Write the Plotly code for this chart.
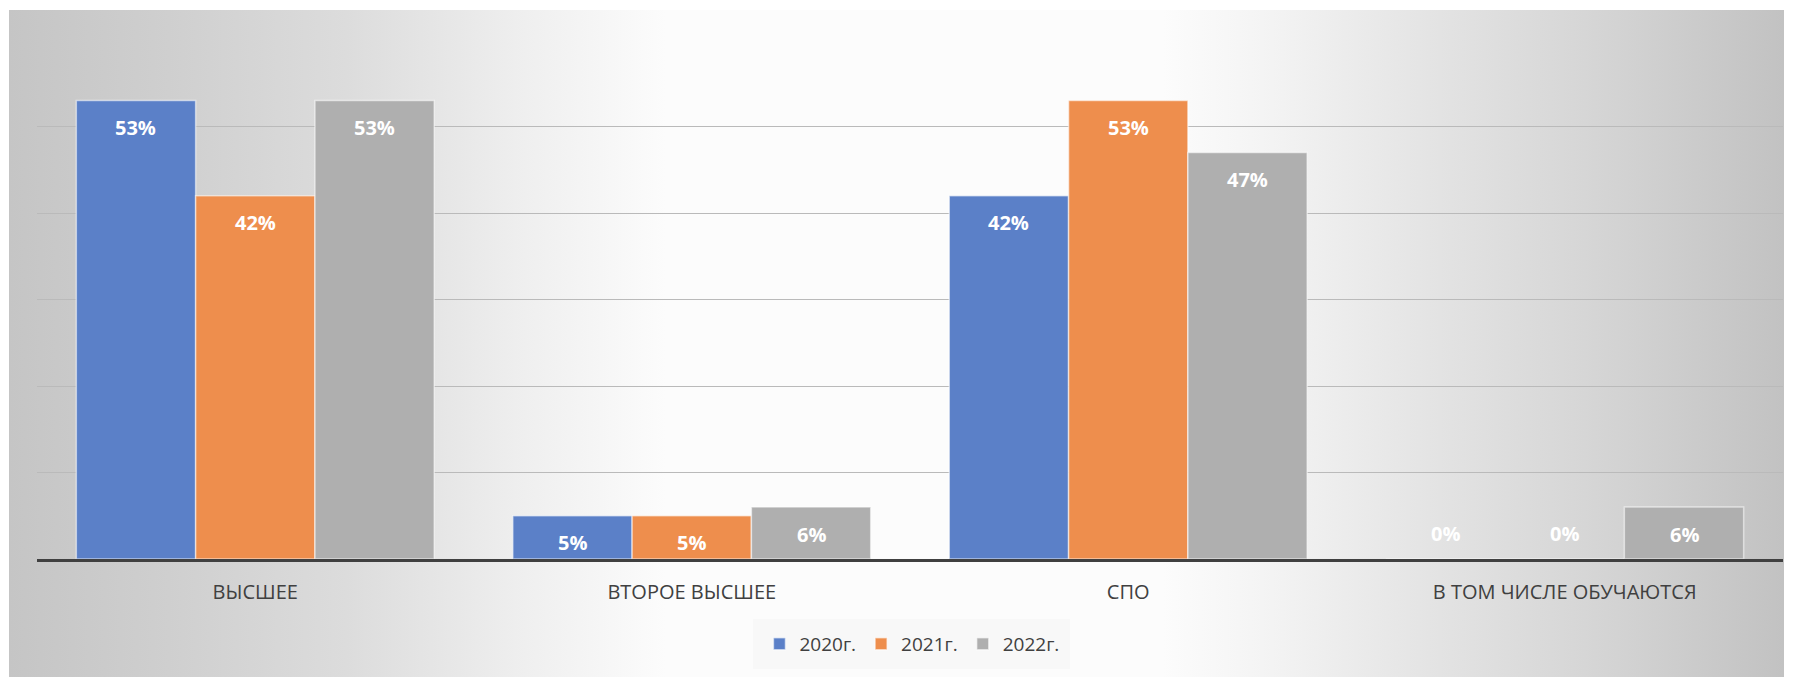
import plotly.graph_objects as go

categories = ["ВЫСШЕЕ", "ВТОРОЕ ВЫСШЕЕ", "СПО", "В ТОМ ЧИСЛЕ ОБУЧАЮТСЯ"]
series_names = ["2020г.", "2021г.", "2022г."]
values_2020 = [0.53, 0.05, 0.42, 0.0]
values_2021 = [0.42, 0.05, 0.53, 0.0]
values_2022 = [0.53, 0.06, 0.47, 0.06]
series_values = [values_2020, values_2021, values_2022]
colors = ["#5b80c8", "#ee8e4d", "#afafaf"]

FONT = "Open Sans"
BARGAP = 0.18

fig = go.Figure()

# background panel gradient (on a full-size hidden subplot drawn first)
fig.add_trace(go.Scatter(
    x=[0, 1, 1, 0], y=[0, 0, 1, 1], fill="toself", mode="none",
    fillgradient=dict(type="horizontal", colorscale=[
        [0.0, "#c5c5c5"], [0.09, "#cfcfcf"], [0.19, "#dcdcdc"], [0.285, "#eeeeee"],
        [0.37, "#fcfcfc"], [0.65, "#fcfcfc"], [0.70, "#f5f5f5"], [0.80, "#e4e4e4"],
        [0.90, "#d4d4d4"], [1.0, "#c2c2c2"]]),
    showlegend=False, hoverinfo="skip", xaxis="x", yaxis="y"))

for name, vals, col in zip(series_names, series_values, colors):
    fig.add_trace(go.Bar(
        x=categories, y=vals, name=name, xaxis="x2", yaxis="y2",
        marker=dict(color=col, line=dict(color="rgba(255,255,255,0.55)", width=1.5)),
        hoverinfo="skip"))

# data labels
w = (1 - BARGAP) / len(series_values)
annotations = []
for k, vals in enumerate(series_values):
    for i, v in enumerate(vals):
        annotations.append(dict(
            x=i + (k - (len(series_values) - 1) / 2) * w, y=v, xref="x2", yref="y2",
            text=f"{round(v * 100)}%", showarrow=False,
            yshift=-27 if v > 0 else 26, yanchor="middle",
            font=dict(family=FONT, size=20, color="white", weight="bold")))

fig.update_layout(
    width=1785, height=669,
    margin=dict(l=1, r=9, t=2, b=0, pad=0),
    paper_bgcolor="white", plot_bgcolor="rgba(0,0,0,0)",
    barmode="group", bargap=BARGAP, bargroupgap=0,
    xaxis=dict(domain=[0, 1], range=[0, 1], visible=False, fixedrange=True),
    yaxis=dict(domain=[0, 1], range=[0, 1], visible=False, fixedrange=True),
    xaxis2=dict(domain=[0.0158, 0.9994], anchor="y2", type="category",
                showline=True, linecolor="#404040", linewidth=3,
                showgrid=False, ticks="", ticklabelstandoff=13,
                tickfont=dict(family=FONT, size=20, color="#404040")),
    yaxis2=dict(domain=[0.1769, 0.955], anchor="x2", range=[0, 0.6],
                dtick=0.1, showticklabels=False, showgrid=True,
                gridcolor="#bababa", gridwidth=1.3, zeroline=False, ticks=""),
    legend=dict(orientation="h", x=0.5087, y=0.0495, xanchor="center", yanchor="middle",
                bgcolor="#f8f8f8", bordercolor="#f8f8f8", borderwidth=6,
                font=dict(family=FONT, size=19, color="#404040"),
                traceorder="normal"),
    annotations=annotations,
)

fig.write_html("out.html")
